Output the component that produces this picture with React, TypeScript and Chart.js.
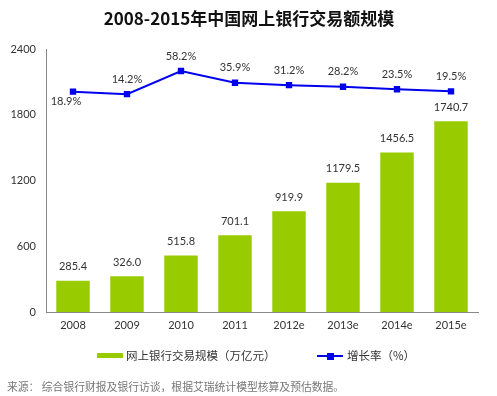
import React, { useEffect, useRef } from "react";
import { Chart, registerables } from "chart.js";

Chart.register(...registerables);

const chartTitle = "2008-2015年中国网上银行交易额规模";
const years = ["2008", "2009", "2010", "2011", "2012e", "2013e", "2014e", "2015e"];
const volume = [285.4, 326.0, 515.8, 701.1, 919.9, 1179.5, 1456.5, 1740.7];
const growth = [18.9, 14.2, 58.2, 35.9, 31.2, 28.2, 23.5, 19.5];
const yTicks = [0, 600, 1200, 1800, 2400];
const volumeLabel = "网上银行交易规模（万亿元）";
const growthLabel = "增长率（%）";
const sourceText = "来源： 综合银行财报及银行访谈，根据艾瑞统计模型核算及预估数据。";

const GREEN = "#99cc00";
const BLUE = "#0000ee";
const LATIN = "Lato, 'Noto Sans CJK SC', sans-serif";
const CJK = "'Noto Sans CJK SC', sans-serif";

const labelPlugin = {
  id: "customLabels",
  afterDatasetsDraw(chart: any) {
    const ctx = chart.ctx;
    ctx.save();
    ctx.fillStyle = "#333";
    ctx.font = `11px ${LATIN}`;
    ctx.textAlign = "center";
    ctx.textBaseline = "middle";
    const barMeta = chart.getDatasetMeta(1);
    barMeta.data.forEach((el: any, i: number) => {
      ctx.fillText(volume[i].toFixed(1), el.x, el.y - 14);
    });
    const lineMeta = chart.getDatasetMeta(0);
    lineMeta.data.forEach((el: any, i: number) => {
      const t = growth[i].toFixed(1) + "%";
      if (i === 0) ctx.fillText(t, el.x - 7, el.y + 10);
      else ctx.fillText(t, el.x, el.y - 15);
    });
    ctx.restore();
  },
  afterDraw(chart: any) {
    const ctx = chart.ctx;
    ctx.save();
    // title
    ctx.fillStyle = "#111";
    ctx.font = `bold 17px ${CJK}`;
    ctx.textAlign = "center";
    ctx.textBaseline = "middle";
    ctx.fillText(chartTitle, 249, 19);
    // legend
    ctx.textAlign = "left";
    ctx.font = `11.5px ${CJK}`;
    ctx.fillStyle = GREEN;
    ctx.fillRect(97, 353, 26, 5);
    ctx.fillStyle = "#333";
    ctx.fillText(volumeLabel, 126, 356);
    ctx.strokeStyle = BLUE;
    ctx.lineWidth = 2;
    ctx.beginPath();
    ctx.moveTo(317, 356);
    ctx.lineTo(343, 356);
    ctx.stroke();
    ctx.fillStyle = BLUE;
    ctx.fillRect(327, 353, 7, 7);
    ctx.fillStyle = "#333";
    ctx.fillText(growthLabel, 347, 356);
    // source
    ctx.fillStyle = "#777";
    ctx.font = `10.8px ${CJK}`;
    ctx.fillText(sourceText, 7, 387);
    ctx.restore();
  },
};

export default function App() {
  const ref = useRef<HTMLCanvasElement>(null);
  useEffect(() => {
    if (!ref.current) return;
    const chart = new Chart(ref.current, {
      type: "bar",
      data: {
        labels: years,
        datasets: [
          {
            type: "line",
            label: growthLabel,
            data: growth,
            yAxisID: "y1",
            borderColor: BLUE,
            backgroundColor: BLUE,
            borderWidth: 2,
            pointStyle: "rect",
            pointRadius: 4.5,
            pointBackgroundColor: BLUE,
            pointBorderWidth: 0,
            order: 0,
          } as any,
          {
            type: "bar",
            label: volumeLabel,
            data: volume,
            yAxisID: "y",
            backgroundColor: GREEN,
            barPercentage: 0.62,
            categoryPercentage: 1,
            order: 1,
          },
        ],
      },
      options: {
        responsive: false,
        animation: false,
        layout: { padding: { top: 49, right: 19, bottom: 60, left: 0 } },
        plugins: { legend: { display: false }, title: { display: false }, tooltip: { enabled: false } },
        scales: {
          x: {
            grid: { display: false, drawTicks: false },
            border: { display: true, color: "#888", width: 1 },
            ticks: { color: "#333", font: { family: LATIN, size: 11 }, padding: 7 },
            afterFit: (s: any) => { s.height = 24; },
          },
          y: {
            min: 0,
            max: 2400,
            afterBuildTicks: (s: any) => { s.ticks = yTicks.map((v) => ({ value: v })); },
            grid: { display: false, drawTicks: false },
            border: { display: true, color: "#888", width: 1 },
            ticks: {
              color: "#333",
              font: { family: LATIN, size: 11 },
              padding: 10,
              callback: (v: any) => String(v),
            },
            afterFit: (s: any) => { s.width = 46; },
          },
          y1: {
            min: -400,
            max: 100,
            display: false,
            position: "right",
          },
        },
      },
      plugins: [labelPlugin],
    });
    return () => chart.destroy();
  }, []);
  return (
    <div style={{ position: "absolute", left: 0, top: 0, width: 497, height: 396, background: "#fff" }}>
      <canvas ref={ref} width={497} height={396} />
    </div>
  );
}
